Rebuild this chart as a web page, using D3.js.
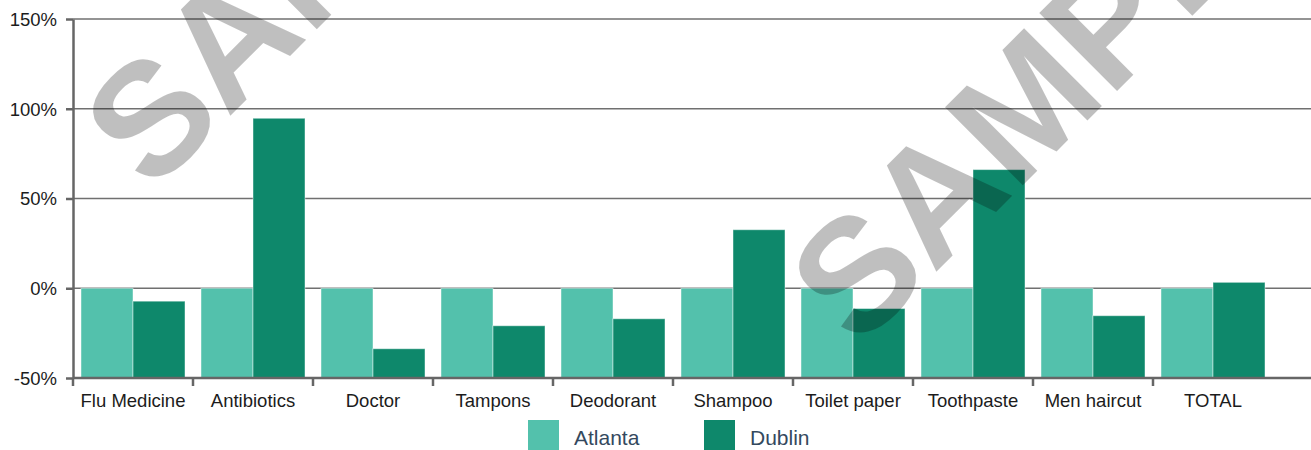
<!DOCTYPE html>
<html>
<head>
<meta charset="utf-8">
<script src="https://cdn.jsdelivr.net/npm/d3@7"></script>
<style>
  body { margin: 0; background: #fff; }
  svg { display: block; }
</style>
</head>
<body>
<svg id="chart"></svg>
<script>
// chart data
const categories = ["Flu Medicine", "Antibiotics", "Doctor", "Tampons", "Deodorant",
                    "Shampoo", "Toilet paper", "Toothpaste", "Men haircut", "TOTAL"];
const seriesNames = ["Atlanta", "Dublin"];
const atlantaValues = [0, 0, 0, 0, 0, 0, 0, 0, 0, 0];
const dublinValues = [-7.2, 94.7, -33.7, -20.9, -17, 32.6, -11.3, 66.1, -15.3, 3.3];
const yTicks = [-50, 0, 50, 100, 150];
const colors = ["#53c1ac", "#0e886b"];

const W = 1311, H = 450;
const svg = d3.select("#chart").attr("width", W).attr("height", H);

// scales
const x0 = d3.scaleBand().domain(categories).range([73, 1273]).padding(0);
const x1 = d3.scaleBand().domain(seriesNames).range([8, x0.bandwidth() - 8]).padding(0);
const y = d3.scaleLinear().domain([-50, 150]).range([378, 19]);

// gridlines
svg.append("g")
   .selectAll("line")
   .data(yTicks)
   .join("line")
   .attr("x1", 73).attr("x2", W)
   .attr("y1", d => y(d)).attr("y2", d => y(d))
   .attr("stroke", "#707070")
   .attr("stroke-width", 1.6);

// bars, growing from the bottom of the axis
const rows = categories.map((c, i) => ({ cat: c, vals: [atlantaValues[i], dublinValues[i]] }));
svg.append("g")
   .selectAll("g")
   .data(rows)
   .join("g")
   .attr("transform", d => `translate(${x0(d.cat)},0)`)
   .selectAll("rect")
   .data(d => d.vals.map((v, j) => ({ key: seriesNames[j], v, j })))
   .join("rect")
   .attr("x", d => x1(d.key))
   .attr("width", x1.bandwidth())
   .attr("y", d => y(d.v))
   .attr("height", d => y(-50) - y(d.v))
   .attr("fill", d => colors[d.j])
   .attr("stroke", "rgba(255,255,255,0.45)")
   .attr("stroke-width", 1);

// y axis
const yAxis = svg.append("g")
   .attr("transform", "translate(73,0)")
   .call(d3.axisLeft(y).tickValues(yTicks).tickFormat(d => d + "%").tickSize(7).tickSizeOuter(0));
yAxis.select(".domain").attr("stroke", "#666").attr("stroke-width", 2.5);
yAxis.selectAll(".tick line").attr("stroke", "#666").attr("stroke-width", 2.5);
yAxis.selectAll(".tick text")
     .attr("x", -16).attr("dy", "0.35em")
     .attr("font-family", "Liberation Sans, Arial, sans-serif")
     .attr("font-size", 18.5).attr("fill", "#1c1c1c");

// x axis
const xAxis = svg.append("g")
   .attr("transform", `translate(0,${y(-50)})`)
   .call(d3.axisBottom(x0).tickSize(0).tickSizeOuter(0));
xAxis.select(".domain").attr("d", `M73,0H${W}`).attr("stroke", "#666").attr("stroke-width", 2.5);
xAxis.selectAll(".tick text")
     .attr("y", 16).attr("dy", "0.71em")
     .attr("font-family", "Liberation Sans, Arial, sans-serif")
     .attr("font-size", 18.5).attr("fill", "#1c1c1c");
// tick marks between the categories
xAxis.append("g")
     .selectAll("line")
     .data(categories)
     .join("line")
     .attr("x1", d => x0(d)).attr("x2", d => x0(d))
     .attr("y1", 0).attr("y2", 8)
     .attr("stroke", "#666").attr("stroke-width", 2.5);

// legend
const legend = svg.append("g")
   .selectAll("g")
   .data(seriesNames)
   .join("g")
   .attr("transform", (d, i) => `translate(${528 + i * 176},420)`);
legend.append("rect").attr("width", 31).attr("height", 31).attr("fill", (d, i) => colors[i]);
legend.append("text")
      .attr("x", 46).attr("y", 25)
      .attr("font-family", "Liberation Sans, Arial, sans-serif")
      .attr("font-size", 21).attr("fill", "#34495e")
      .text(d => d);

// watermark on top
const marks = [[152, 194], [858, 350]];
svg.append("g")
   .selectAll("text")
   .data(marks)
   .join("text")
   .attr("transform", d => `translate(${d[0]},${d[1]}) rotate(-45)`)
   .attr("font-family", "Liberation Sans, Arial, sans-serif")
   .attr("font-weight", "bold")
   .attr("font-size", 160)
   .attr("fill", "#000")
   .attr("fill-opacity", 0.25)
   .text("SAMPLE");
</script>
</body>
</html>
